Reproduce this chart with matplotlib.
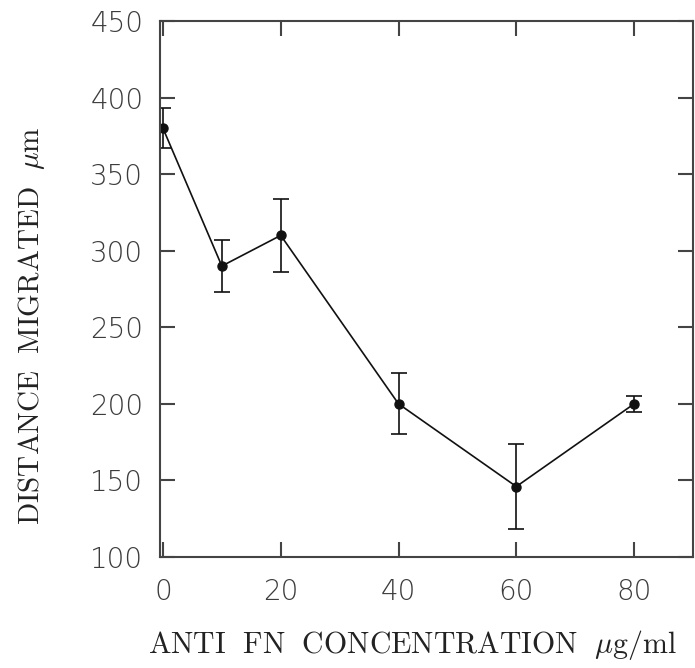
import matplotlib
matplotlib.use('Agg')
import matplotlib.pyplot as plt

# anti FN concentration (ug/ml) vs distance migrated (um)
conc = [0, 10, 20, 40, 60, 80]
dist = [380, 290, 310, 200, 146, 200]
err = [13, 17, 24, 20, 28, 5]

xticks = [0, 20, 40, 60, 80]
yticks = [100, 150, 200, 250, 300, 350, 400, 450]

plt.rcParams['mathtext.fontset'] = 'cm'

fig = plt.figure(figsize=(6.95, 6.68), dpi=100)
ax = fig.add_axes([160/695, 1 - 557/668, (693-160)/695, (557-21)/668])

ax.errorbar(conc, dist, yerr=err, color='#111111', lw=1.2, marker='o',
            markersize=6.5, capsize=5.5, elinewidth=1.2, capthick=1.2)

ax.set_xlim(-0.5, 90)
ax.set_ylim(100, 450)
ax.set_xticks(xticks)
ax.set_yticks(yticks)

for s in ax.spines.values():
    s.set_linewidth(1.5)
    s.set_color('#444444')

ax.tick_params(direction='in', length=11, width=1.5, color='#444444',
               top=True, right=True, labelsize=20, labelcolor='#3c3c3c')
ax.tick_params(axis='x', pad=15)
ax.tick_params(axis='y', pad=12)
for lab in ax.get_xticklabels() + ax.get_yticklabels():
    lab.set_family('DejaVu Sans')
    lab.set_fontweight('light')

ax.set_xlabel(r'$\mathrm{ANTI\ \ FN\ \ CONCENTRATION}\ \ \mu\mathrm{g/ml}$',
              fontsize=21.5, color='#222222')
ax.set_ylabel(r'$\mathrm{DISTANCE\ \ MIGRATED}\ \ \mu\mathrm{m}$',
              fontsize=21, color='#222222')
ax.xaxis.set_label_coords(0.473, -0.133)
ax.yaxis.set_label_coords(-0.212, 0.431)

fig.savefig('out.png', dpi=100)
